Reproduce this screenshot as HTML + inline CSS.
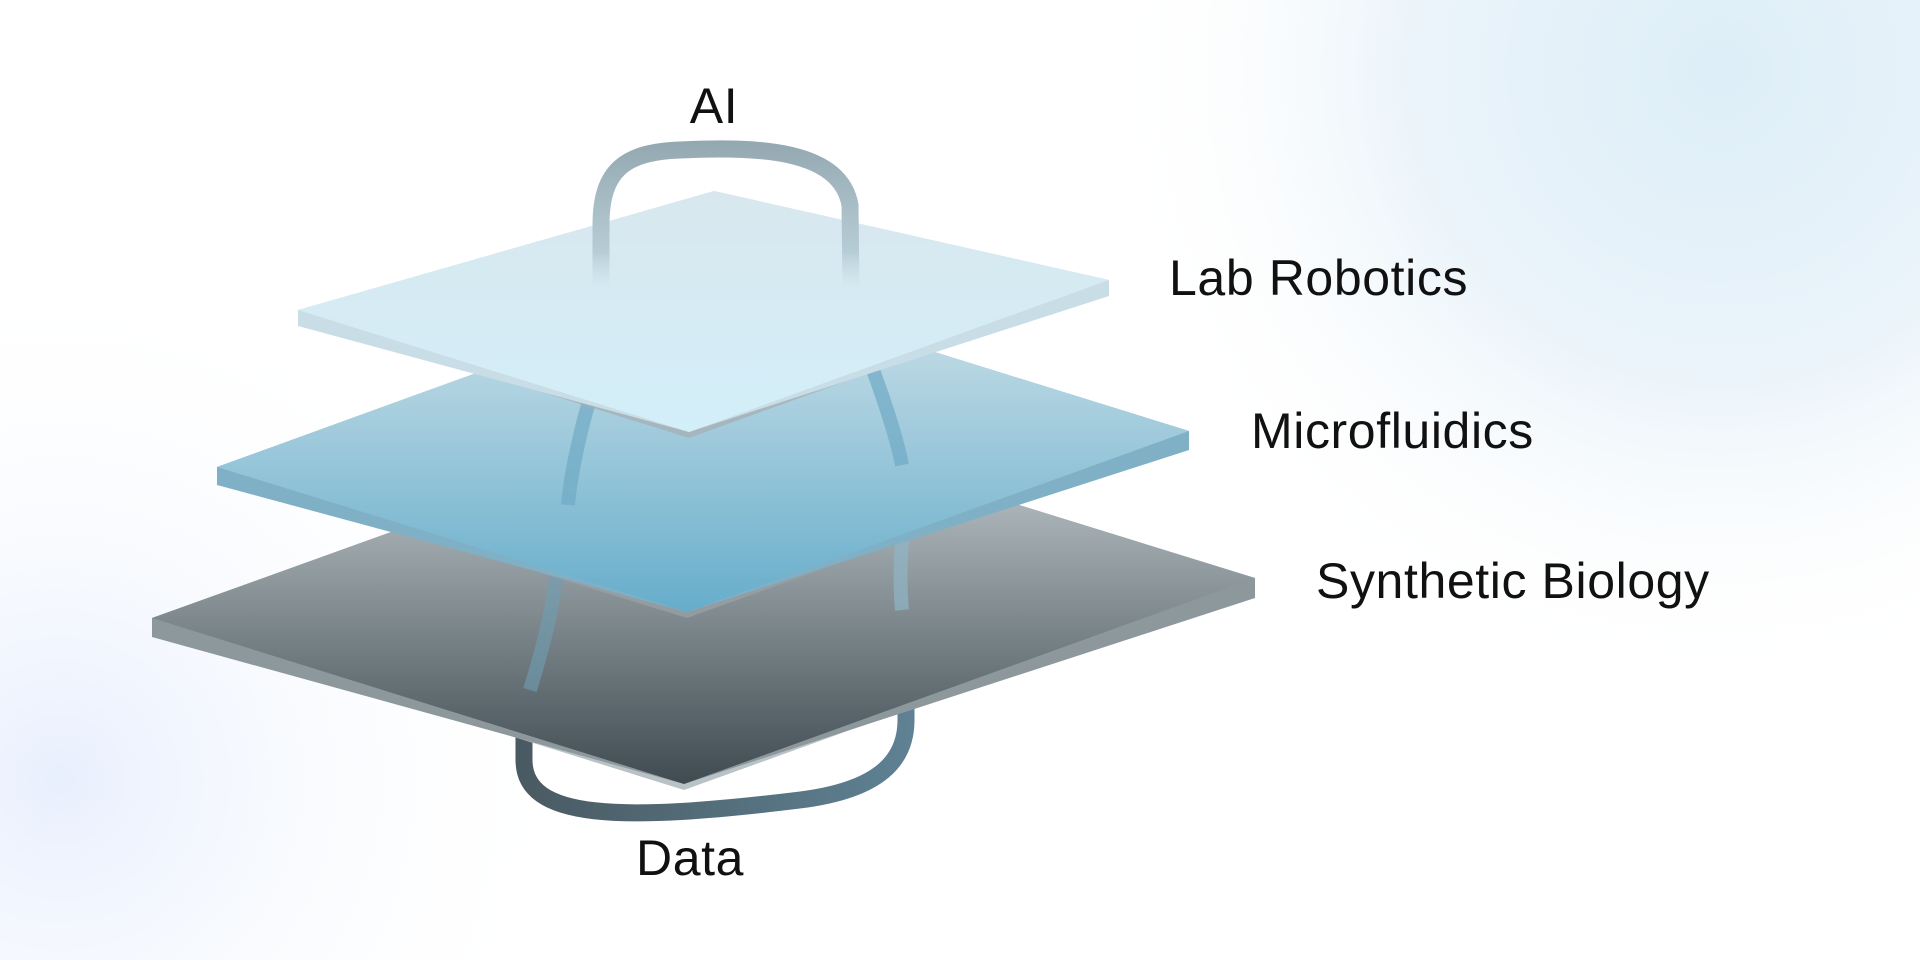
<!DOCTYPE html>
<html><head><meta charset="utf-8"><style>
html,body{margin:0;padding:0;width:1920px;height:960px;overflow:hidden;background:#fff}
svg{display:block}
text{font-family:"Liberation Sans","DejaVu Sans",sans-serif;fill:#111;letter-spacing:0.6px}
</style></head><body>
<svg width="1920" height="960" viewBox="0 0 1920 960" xmlns="http://www.w3.org/2000/svg">
<defs>
<radialGradient id="bg1" cx="1720" cy="70" r="620" gradientUnits="userSpaceOnUse">
<stop offset="0" stop-color="#ddeef8"/><stop offset="0.5" stop-color="#ebf4fa"/><stop offset="1" stop-color="#ffffff" stop-opacity="0"/></radialGradient>
<radialGradient id="bg2" cx="60" cy="780" r="520" gradientUnits="userSpaceOnUse">
<stop offset="0" stop-color="#e8effd"/><stop offset="1" stop-color="#ffffff" stop-opacity="0"/></radialGradient>
<linearGradient id="gTop" x1="0" y1="191" x2="0" y2="432" gradientUnits="userSpaceOnUse">
<stop offset="0" stop-color="#d8e7ee"/><stop offset="1" stop-color="#d3effa"/></linearGradient>
<linearGradient id="gMid" x1="0" y1="285" x2="0" y2="612" gradientUnits="userSpaceOnUse">
<stop offset="0" stop-color="#d0e3ea"/><stop offset="1" stop-color="#66adcb"/></linearGradient>
<linearGradient id="gBot" x1="0" y1="413" x2="0" y2="784" gradientUnits="userSpaceOnUse">
<stop offset="0" stop-color="#cdd6da"/><stop offset="1" stop-color="#3f4b51"/></linearGradient>
<linearGradient id="gAI" x1="0" y1="140" x2="0" y2="290" gradientUnits="userSpaceOnUse">
<stop offset="0" stop-color="#93a7b0"/><stop offset="0.75" stop-color="#b7cdd6"/><stop offset="1" stop-color="#c9dde5" stop-opacity="0"/></linearGradient>
<linearGradient id="gData" x1="520" y1="0" x2="910" y2="0" gradientUnits="userSpaceOnUse">
<stop offset="0" stop-color="#4a5a62"/><stop offset="1" stop-color="#5e8193"/></linearGradient>
</defs>
<rect width="1920" height="960" fill="#fff"/>
<rect width="1920" height="960" fill="url(#bg1)"/>
<rect width="1920" height="960" fill="url(#bg2)"/>

<path d="M524 728 L524 760 C524 820 620 822 800 800 C880 790 906 760 906 720 L906 700" fill="none" stroke="url(#gData)" stroke-width="17"/>

<polygon points="152,624 722,419 1255,584 684,790" fill="#b9c2c6"/>
<polygon points="152,618 722,413 1255,578 1255,598 684,784 152,637" fill="#8d989d"/>
<polygon points="152,618 722,413 1255,578 684,784" fill="url(#gBot)"/>
<path d="M560 540 C556 600 545 640 530 690" fill="none" stroke="#6f9fb4" stroke-opacity="0.6" stroke-width="14"/>
<path d="M902 540 C900 570 900 590 902 610" fill="none" stroke="#8fb5c6" stroke-opacity="0.7" stroke-width="14"/>

<polygon points="217,473 719,291 1189,437 687,618" fill="#9aa2a6" opacity="0.7"/>
<polygon points="217,467 719,285 1189,431 1189,450 687,612 217,485" fill="#7fb0c6"/>
<polygon points="217,467 719,285 1189,431 687,612" fill="url(#gMid)"/>
<path d="M588 405 C578 440 570 480 568 505" fill="none" stroke="#6fa9c4" stroke-opacity="0.7" stroke-width="14"/>
<path d="M873 370 C884 400 896 435 902 465" fill="none" stroke="#6fa9c4" stroke-opacity="0.7" stroke-width="14"/>

<polygon points="298,316 714,197 1109,286 689,438" fill="#a8adb0" opacity="0.7"/>
<polygon points="298,310 714,191 1109,280 1109,296 689,432 298,326" fill="#c8dde6"/>
<polygon points="298,310 714,191 1109,280 689,432" fill="url(#gTop)"/>

<path d="M601 290 L601 225 C601 170 625 152 680 150 C760 146 840 150 850 205 L851 290" fill="none" stroke="url(#gAI)" stroke-width="17"/>

<text x="714" y="123" font-size="50" text-anchor="middle">AI</text>
<text x="1169" y="295" font-size="50">Lab Robotics</text>
<text x="1251" y="448" font-size="50">Microfluidics</text>
<text x="1316" y="598" font-size="50">Synthetic Biology</text>
<text x="690" y="875" font-size="50" text-anchor="middle">Data</text>
</svg>
</body></html>
